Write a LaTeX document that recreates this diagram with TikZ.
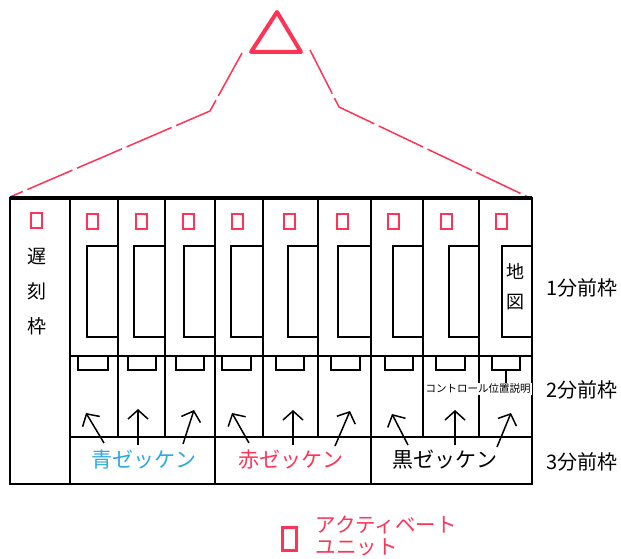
\documentclass[tikz,border=0pt]{standalone}
\usepackage{fontspec}
\newfontfamily\jp{Noto Sans CJK JP}
\usetikzlibrary{arrows.meta}
\definecolor{actred}{HTML}{FF3355}
\definecolor{bibblue}{HTML}{2AA8E0}
\begin{document}
\begin{tikzpicture}[x=1pt,y=-1pt,font=\jp,
    unit/.style={draw=actred,line width=2pt,minimum width=11pt,minimum height=15pt,inner sep=0pt},
    frameline/.style={line width=1.6pt},
    bib/.style={font=\jp\fontsize{21}{22}\selectfont},
    period/.style={font=\jp\fontsize{20}{22}\selectfont,anchor=west},
    runner/.style={line width=1.5pt,-{Straight Barb[length=9pt,width=20pt]}},
    guide/.style={actred,line width=1.5pt,dash pattern=on 49pt off 5pt}]
    \useasboundingbox (0,0) rectangle (621,559);
    %% triangle and guide lines
    \draw[actred,line width=4pt,line join=round] (277,12) -- (251,52) -- (301,52) -- cycle;
    \coordinate (gl) at (242,53); \coordinate (kl) at (210,111); \coordinate (fl) at (10,197);
    \coordinate (gr) at (310,50); \coordinate (kr) at (339,107); \coordinate (fr) at (528,197);
    \draw[guide] (gl) -- (kl) -- (fl);
    \draw[guide] (gr) -- (kr) -- (fr);
    %% frame
    \draw[frameline] (10,198) rectangle (532,484);
    \draw[line width=4pt] (10,198) -- (532,198);
    \draw[frameline] (70,356) -- (532,356) (70,437) -- (532,437);
    \foreach \x in {70,215,371} \draw[frameline] (\x,198) -- (\x,484);
    \foreach \x in {118,165,263,318,479} \draw[frameline] (\x,198) -- (\x,437);
    \draw[line width=2.6pt] (423,198) -- (423,437);
    %% card frames and pocket
    \foreach \l/\r [count=\i] in {87/118,134/165,184/215,231/263,288/318,338/371,393/423,449/479,502/532}
        \draw[frameline] (\r,246) -- (\l,246) -- (\l,337) -- (\r,337);
    \foreach \l/\r [count=\i] in {78/108,128/156,176/204,222/251,276/304,331/360,385/413,436/465,492/520}
        \draw[frameline] (\l,356) rectangle (\r,370);
    %% active units
    \node[unit] (u0) at (36,220.5) {};
    \foreach \x [count=\i] in {92.5,141,188.5,237,289.5,342.5,393,446.5,501}
        \node[unit] (u\i) at (\x,221) {};
    %% texts
    \node[font=\jp\fontsize{19}{35}\selectfont,align=center] (late) at (37,292) {遅\\刻\\枠};
    \node[font=\jp\fontsize{18}{30}\selectfont,align=center] (map) at (515.5,287) {地\\図};
    \node[font=\jp\fontsize{10.5}{12}\selectfont,fill=white,inner sep=1pt] (ctrl) at (478,389) {コントロール位置説明};
    \coordinate (p9) at (506,370);
    \draw[line width=1.2pt] (p9) -- (p9 |- ctrl.north);
    \node[period] (t1) at (543,288) {1分前枠};
    \node[period] (t2) at (543,390) {2分前枠};
    \node[period] (t3) at (543,462) {3分前枠};
    %% runners
    \foreach \tx/\ty/\hx/\hy [count=\i] in {104/443/86/413,138/445/138/409,183/444/194/410,249/443/232/413,293/445/293/410,335/446/350/411,408/445/392/414,455/445/455/410,497/447/511/413}{
        \coordinate (t\i) at (\tx,\ty); \coordinate (h\i) at (\hx,\hy);
        \draw[runner] (t\i) -- (h\i);
    }
    \node[bib,text=bibblue] (blue) at (144,460) {青ゼッケン};
    \node[bib,text=actred] (red) at (291,460) {赤ゼッケン};
    \node[bib] (black) at (445,460) {黒ゼッケン};
    %% legend
    \node[unit,line width=3pt,minimum width=14pt,minimum height=23pt] (key) at (289,539) {};
    \node[font=\jp\fontsize{20.5}{22}\selectfont,text=actred,align=left,anchor=west] (keytext) at (312,536) {アクティベート\\ユニット};
\end{tikzpicture}
\end{document}
